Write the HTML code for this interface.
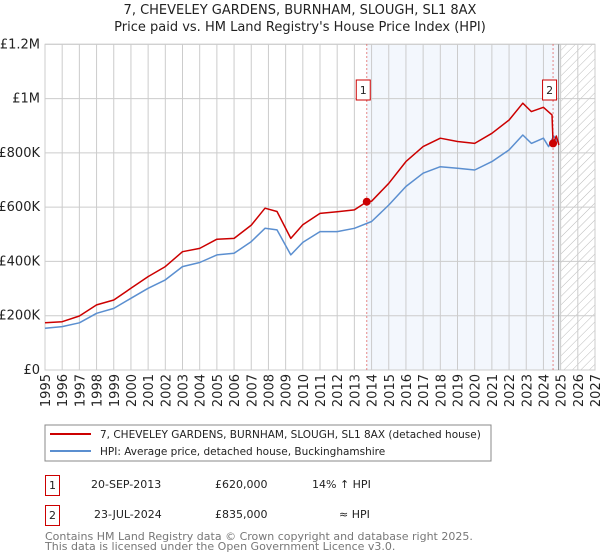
<!DOCTYPE html>
<html><head><meta charset="utf-8"><style>
body{margin:0;background:#fff;width:600px;height:560px;overflow:hidden;font-family:"DejaVu Sans","Liberation Sans",sans-serif;}
svg{position:absolute;left:0;top:0}
</style></head><body>
<svg width="600" height="560" font-family="DejaVu Sans, Liberation Sans, sans-serif">
<defs><pattern id="hatch" width="6" height="6" patternUnits="userSpaceOnUse" patternTransform="rotate(45)"><line x1="0" y1="0" x2="0" y2="6" stroke="#bbb" stroke-width="1"/></pattern></defs>
<text x="300" y="14" text-anchor="middle" font-size="13" fill="#222">7, CHEVELEY GARDENS, BURNHAM, SLOUGH, SL1 8AX</text>
<text x="300" y="31" text-anchor="middle" font-size="13" fill="#222">Price paid vs. HM Land Registry's House Price Index (HPI)</text>
<g id="plot"></g>
<rect x="45" y="425" width="446" height="36" fill="none" stroke="#888"/>
<line x1="50" y1="434" x2="91" y2="434" stroke="#cc0000" stroke-width="2"/>
<text x="100" y="438" font-size="10.5" fill="#222">7, CHEVELEY GARDENS, BURNHAM, SLOUGH, SL1 8AX (detached house)</text>
<line x1="50" y1="451" x2="91" y2="451" stroke="#5b8fd0" stroke-width="2"/>
<text x="100" y="455" font-size="10.5" fill="#222">HPI: Average price, detached house, Buckinghamshire</text>
<g font-size="11" fill="#222">
<rect x="45.5" y="475.5" width="14" height="20" fill="#fff" stroke="#cc0000"/>
<text x="52.5" y="489" text-anchor="middle">1</text>
<text x="91" y="488">20-SEP-2013</text>
<text x="215" y="488">£620,000</text>
<text x="312" y="488">14% ↑ HPI</text>
<rect x="45.5" y="505.5" width="14" height="20" fill="#fff" stroke="#cc0000"/>
<text x="52.5" y="519" text-anchor="middle">2</text>
<text x="94" y="518">23-JUL-2024</text>
<text x="215" y="518">£835,000</text>
<text x="339" y="518">≈ HPI</text>
</g>
<text x="45" y="540" font-size="11" fill="#777">Contains HM Land Registry data © Crown copyright and database right 2025.</text>
<text x="45" y="550" font-size="11" fill="#777">This data is licensed under the Open Government Licence v3.0.</text>
</svg>
<script>
const hpiYears=[1995,1996,1997,1998,1999,2000,2001,2002,2003,2004,2005,2006,2007,2007.8,2008.5,2009.3,2010,2011,2012,2013,2014,2015,2016,2017,2018,2019,2020,2021,2022,2022.8,2023.3,2024,2024.3,2024.6,2024.9];
const hpiValues=[154,160,174,209,227,264,301,332,381,396,424,430,473,522,516,424,470,510,510,522,547,608,676,725,749,743,737,768,811,866,835,854,823,862,835];
const priceYears=[1995,1996,1997,1998,1999,2000,2001,2002,2003,2004,2005,2006,2007,2007.8,2008.5,2009.3,2010,2011,2012,2013,2013.72,2014,2015,2016,2017,2018,2019,2020,2021,2022,2022.8,2023.3,2024,2024.5,2024.56,2024.75,2024.9];
const priceValues=[174,178,199,240,258,301,344,381,436,448,482,485,534,596,584,485,535,577,583,590,620,622,688,768,823,854,842,835,872,921,983,952,968,940,835,862,829];
const saleYears=[2013.72,2024.56];
const saleValues=[620,835];
const saleLabels=["1","2"];
const yTicks=[0,200,400,600,800,1000,1200];
const yTickLabels=["£0","£200K","£400K","£600K","£800K","£1M","£1.2M"];
const xTicks=[1995,1996,1997,1998,1999,2000,2001,2002,2003,2004,2005,2006,2007,2008,2009,2010,2011,2012,2013,2014,2015,2016,2017,2018,2019,2020,2021,2022,2023,2024,2025,2026,2027];

const X0=45,X1=595,Y0=370,Y1=44.3;
const xs=y=>X0+(y-1995)/(2027-1995)*(X1-X0);
const ys=v=>Y0-v/1200*(Y0-Y1);
const NS="http://www.w3.org/2000/svg";
const g=document.getElementById('plot');
function mk(t,a){const e=document.createElementNS(NS,t);for(const k in a)e.setAttribute(k,a[k]);g.appendChild(e);return e;}
let e;
e=mk('rect',{x:xs(saleYears[0]),y:Y1,width:xs(2025)-xs(saleYears[0]),height:Y0-Y1,fill:'#eef3fc',opacity:0.7});


e=mk('rect',{x:xs(2025),y:Y1,width:X1-xs(2025),height:Y0-Y1,fill:'url(#hatch)'});


yTicks.forEach((t,i)=>{
 e=mk('line',{x1:X0,x2:X1,y1:ys(t),y2:ys(t),stroke:'#ccc'});
 
 
 e=mk('text',{x:X0-5,y:ys(t)+4,'text-anchor':'end','font-size':13,fill:'#222'});e.textContent=yTickLabels[i];
 
 
});
xTicks.forEach(t=>{
 e=mk('line',{x1:xs(t),x2:xs(t),y1:Y1,y2:Y0,stroke:'#ccc'});
 
 
 e=mk('text',{x:0,y:0,'text-anchor':'end','font-size':13,fill:'#222',transform:`translate(${xs(t)+5},${Y0+4}) rotate(-90)`});e.textContent=t;
 
 
});
e=mk('rect',{x:X0,y:Y1,width:X1-X0,height:Y0-Y1,fill:'none',stroke:'#ccc'});


e=mk('line',{x1:xs(2025)-2,x2:xs(2025)-2,y1:Y1,y2:Y0,stroke:'#888'});


saleYears.forEach((s,i)=>{
 e=mk('line',{x1:xs(s),x2:xs(s),y1:Y1,y2:Y0,stroke:'#e06060','stroke-dasharray':'1.5,2.5'});
 
 
});
function path(xa,va,col,name){
 e=mk('path',{d:xa.map((x,i)=>(i?'L':'M')+xs(x).toFixed(1)+','+ys(va[i]).toFixed(1)).join(''),fill:'none',stroke:col,'stroke-width':1.5,'stroke-linejoin':'round'});
 
 
}
path(hpiYears,hpiValues,'#5b8fd0','hpi-line');
path(priceYears,priceValues,'#cc0000','property-price-line');
saleYears.forEach((s,i)=>{
 e=mk('circle',{cx:xs(s),cy:ys(saleValues[i]),r:4,fill:'#cc0000'});
 
 
 e=mk('rect',{x:xs(s)-10.5,y:80,width:14,height:20,fill:'#fff',stroke:'#cc0000'});
 
 
 e=mk('text',{x:xs(s)-3.5,y:94,'text-anchor':'middle','font-size':11,fill:'#222'});e.textContent=saleLabels[i];
 
 
});
</script>
</body></html>
